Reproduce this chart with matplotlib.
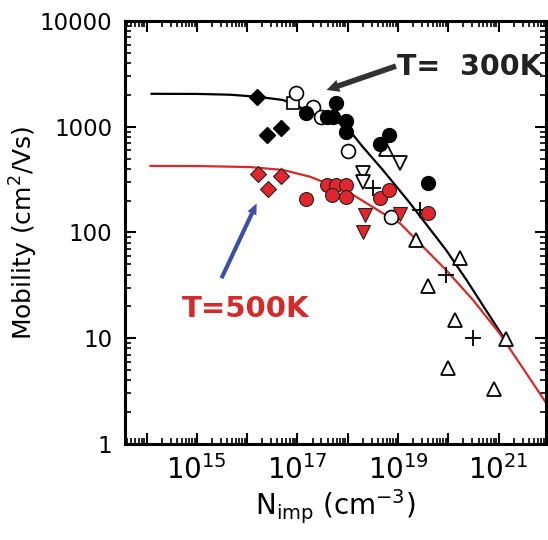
import math
import matplotlib
matplotlib.use('Agg')
import matplotlib.pyplot as plt
from matplotlib.ticker import LogLocator, FixedLocator, NullFormatter

# --- data (N in cm^-3, mobility in cm^2/Vs) ---
# model curves
n_300 = [1.26e14, 1.0e15, 4.6e15, 1.66e16, 5.2e16, 1.5e17, 4.4e17, 9.5e17, 2.0e18,
         5.0e18, 1.74e19, 9.1e19, 2.3e20, 6.8e20, 1.66e21]
mu_300 = [2050, 2045, 2010, 1920, 1790, 1440, 1200, 1000, 644, 390, 189, 68, 35.6, 16, 8.3]

n_500 = [1.2e14, 1.0e15, 1.12e16, 5.2e16, 1.78e17, 3.2e17, 1.1e18, 5.0e18, 1.1e19,
         2.7e19, 9.1e19, 3.1e20, 1.05e21, 8.9e21]
mu_500 = [426, 425, 416, 390, 337, 302, 237, 152, 122, 79, 44, 23, 11.1, 2.43]

# 300 K measurements
diam_n = [1.55e16, 2.45e16, 4.8e16]
diam_mu = [1900, 835, 965]
sq_n = [8.0e16]
sq_mu = [1670]
ocirc_n = [9.5e16, 2.0e17, 3.0e17, 1.0e18, 7.4e18]
ocirc_mu = [2070, 1550, 1230, 595, 141]
circ_n = [1.5e17, 5.8e17, 3.8e17, 5.1e17, 9.1e17, 9.1e17, 4.4e18, 6.6e18, 4.0e19]
circ_mu = [1340, 1670, 1230, 1230, 1140, 900, 690, 835, 292]
tri_n = [5.8e18, 2.3e19, 1.7e20, 4.0e19, 1.35e20, 1.4e21, 1.0e20, 8.1e20]
tri_mu = [612, 85, 57, 31, 14.7, 9.9, 5.2, 3.3]
dtri_n = [1.1e19, 2.0e18, 2.0e18]
dtri_mu = [450, 367, 302]
plus_n = [3.2e18, 2.7e19, 9.1e19, 3.1e20]
plus_mu = [262, 163, 40, 10]

# 500 K measurements
rdiam_n = [1.65e16, 4.8e16, 2.6e16]
rdiam_mu = [357, 342, 256]
rcirc_n = [1.5e17, 3.8e17, 5.8e17, 9.1e17, 4.8e17, 9.1e17, 4.4e18, 6.6e18, 4.0e19]
rcirc_mu = [206, 281, 281, 281, 226, 218, 210, 252, 154]
rdtri_n = [2.2e18, 2.0e18, 1.1e19]
rdtri_mu = [146, 100, 150]

red = '#d42a2a'
redfill = '#e3262b'

fig = plt.figure(figsize=(5.48, 5.40), dpi=100)
ax = fig.add_axes([0.228, 0.178, 0.768, 0.783])

ax.plot(n_300, mu_300, color='black', lw=1.6, zorder=2)
ax.plot(n_500, mu_500, color=red, lw=1.6, zorder=2)

ms = 10
ax.plot(diam_n, diam_mu, 'D', color='black', ms=ms - 1.5, zorder=3)
ax.plot(sq_n, sq_mu, 's', mfc='white', mec='black', mew=1.2, ms=ms - 1.5, zorder=3)
ax.plot(ocirc_n, ocirc_mu, 'o', mfc='white', mec='black', mew=1.2, ms=ms, zorder=3)
ax.plot(circ_n, circ_mu, 'o', color='black', ms=ms, zorder=4)
ax.plot(tri_n, tri_mu, '^', mfc='white', mec='black', mew=1.3, ms=ms, zorder=3)
ax.plot(dtri_n, dtri_mu, 'v', mfc='white', mec='black', mew=1.3, ms=ms, zorder=3)
ax.plot(plus_n, plus_mu, '+', color='black', mew=1.3, ms=ms + 1, zorder=3)

ax.plot(rdiam_n, rdiam_mu, 'D', mfc=redfill, mec='#222222', mew=0.8, ms=ms - 1.5, zorder=3)
ax.plot(rcirc_n, rcirc_mu, 'o', mfc=redfill, mec='#222222', mew=0.8, ms=ms, zorder=3)
ax.plot(rdtri_n, rdtri_mu, 'v', mfc=redfill, mec='#222222', mew=0.8, ms=ms, zorder=3)

ax.set_xscale('log')
ax.set_yscale('log')
ax.set_xlim(10**13.57, 10**21.94)
ax.set_ylim(1, 10000)


def xfmt(v, p):
    e = round(math.log10(v))
    return '$10^{%d}$' % e if e in (15, 17, 19, 21) else ''


ax.xaxis.set_major_locator(LogLocator(base=10, numticks=20))
ax.xaxis.set_minor_locator(LogLocator(base=10, subs=range(2, 10), numticks=100))
ax.xaxis.set_major_formatter(plt.FuncFormatter(xfmt))
ax.xaxis.set_minor_formatter(NullFormatter())
ax.yaxis.set_major_locator(FixedLocator([1, 10, 100, 1000, 10000]))
ax.yaxis.set_major_formatter(plt.FuncFormatter(lambda v, p: '%d' % v))
ax.yaxis.set_minor_locator(LogLocator(base=10, subs=range(2, 10), numticks=100))
ax.yaxis.set_minor_formatter(NullFormatter())

ax.tick_params(which='both', direction='in', top=True, right=True, width=1.5)
ax.tick_params(which='major', length=8)
ax.tick_params(which='minor', length=4, width=1.2)
ax.tick_params(axis='y', labelsize=16.5, pad=9)
ax.tick_params(axis='x', labelsize=20, pad=8)
for s in ax.spines.values():
    s.set_linewidth(2.2)

ax.set_xlabel('N$_{\\mathregular{imp}}$ (cm$^{-3}$)', fontsize=20, labelpad=2)
ax.set_ylabel('Mobility (cm$^{2}$/Vs)', fontsize=18, labelpad=0)

ax.text(10**18.98, 10**3.49, 'T=  300K', fontsize=20.5, fontweight='bold',
        color='#222222', ha='left', va='baseline')
ax.annotate('', xy=(10**17.58, 10**3.348), xytext=(10**18.96, 10**3.574),
            arrowprops=dict(arrowstyle='simple,head_length=0.9,head_width=0.9,tail_width=0.4',
                            color='#333333', lw=0, shrinkA=0, shrinkB=0))

ax.text(10**14.70, 10**1.204, 'T=500K', fontsize=21, fontweight='bold',
        color=red, ha='left', va='baseline')
ax.annotate('', xy=(10**16.19, 10**2.276), xytext=(10**15.49, 10**1.567),
            arrowprops=dict(arrowstyle='simple,head_length=0.8,head_width=0.7,tail_width=0.3',
                            color='#3f4fa8', lw=0, shrinkA=0, shrinkB=0))

fig.savefig('out.png', dpi=100)
